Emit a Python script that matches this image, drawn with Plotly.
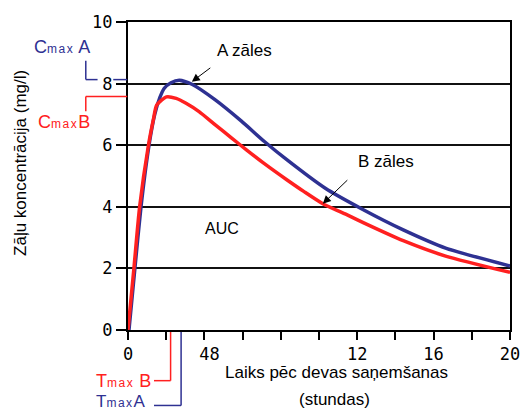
import plotly.graph_objects as go

# ---- data ----
time_a = [0.05, 0.36, 0.68, 1.1, 1.4, 1.67, 1.9, 2.25, 2.69, 3.37, 4.57, 5.94, 7.14, 8.33, 10.33, 12.27, 14.41, 16.63, 20]
conc_a = [0, 2.0, 4.0, 6.0, 7.0, 7.55, 7.85, 8.03, 8.11, 7.97, 7.47, 6.78, 6.12, 5.52, 4.6, 3.92, 3.25, 2.66, 2.08]

time_b = [0, 0.31, 0.61, 1.07, 1.33, 1.5, 2.01, 2.52, 3.04, 3.72, 4.57, 5.43, 6.2, 7.14, 8.33, 9.2, 10.2, 11.53, 12.37, 14.41, 16.63, 20]
conc_b = [0, 2.0, 4.0, 6.0, 6.84, 7.3, 7.57, 7.52, 7.36, 7.09, 6.66, 6.23, 5.85, 5.4, 4.87, 4.5, 4.1, 3.72, 3.47, 2.9, 2.4, 1.87]

x_tickvals = [0, 2, 4, 6, 8, 10, 12, 14, 16, 18, 20]
x_ticktext = ["0", "", "\u200748", "", "", "", "12", "", "16", "", "20"]
y_tickvals = [0, 2, 4, 6, 8, 10]
y_ticktext = ["0", "2", "4", "6", "8", "10"]

cmax_a, cmax_b = 8.13, 7.58
tmax_a, tmax_b = 2.78, 2.23

BLUE = "#2E3192"
RED = "#FF2020"
SANS = "Liberation Sans, Arial, sans-serif"
MONO = "DejaVu Sans Mono, monospace"
SUB = "<span style='font-size:12px;letter-spacing:1.5px'>max</span>"

fig = go.Figure()
fig.add_trace(go.Scatter(x=time_a, y=conc_a, mode="lines",
                         line=dict(color=BLUE, width=3.5, shape="spline", smoothing=0.6),
                         hoverinfo="skip"))
fig.add_trace(go.Scatter(x=time_b, y=conc_b, mode="lines",
                         line=dict(color=RED, width=3.5, shape="spline", smoothing=0.6),
                         hoverinfo="skip"))

shapes = []
# Cmax A bracket
shapes.append(dict(type="line", xref="paper", yref="y", x0=-0.1105, x1=-0.1105, y0=8.74, y1=cmax_a,
                   line=dict(color=BLUE, width=1.5)))
shapes.append(dict(type="line", xref="paper", yref="y", x0=-0.1105, x1=-0.0797, y0=cmax_a, y1=cmax_a,
                   line=dict(color=BLUE, width=1.5)))
shapes.append(dict(type="line", xref="paper", yref="y", x0=-0.0386, x1=-0.002, y0=cmax_a, y1=cmax_a,
                   line=dict(color=BLUE, width=1.5)))
# Cmax B bracket
shapes.append(dict(type="line", xref="paper", yref="y", x0=-0.1105, x1=-0.002, y0=cmax_b, y1=cmax_b,
                   line=dict(color=RED, width=1.5)))
shapes.append(dict(type="line", xref="paper", yref="y", x0=-0.1105, x1=-0.1105, y0=cmax_b, y1=7.1,
                   line=dict(color=RED, width=1.5)))
# Tmax B bracket
shapes.append(dict(type="line", xref="x", yref="paper", x0=tmax_b, x1=tmax_b, y0=-0.0065, y1=-0.1645,
                   line=dict(color=RED, width=1.5)))
shapes.append(dict(type="line", xref="x", yref="paper", x0=1.36, x1=tmax_b, y0=-0.1645, y1=-0.1645,
                   line=dict(color=RED, width=1.5)))
# Tmax A bracket
shapes.append(dict(type="line", xref="x", yref="paper", x0=tmax_a, x1=tmax_a, y0=-0.0065, y1=-0.245,
                   line=dict(color=BLUE, width=1.5)))
shapes.append(dict(type="line", xref="x", yref="paper", x0=1.36, x1=tmax_a, y0=-0.245, y1=-0.245,
                   line=dict(color=BLUE, width=1.5)))

annotations = [
    dict(text="A zāles", x=6.1, y=9.07, xref="x", yref="y", showarrow=False,
         xanchor="center", yanchor="middle",
         font=dict(family=SANS, size=17, color="black")),
    dict(text="", x=3.34, y=8.06, xref="x", yref="y", ax=20, ay=-15,
         showarrow=True, arrowhead=2, arrowsize=1.6, arrowwidth=1, arrowcolor="black"),
    dict(text="B zāles", x=13.5, y=5.48, xref="x", yref="y", showarrow=False,
         xanchor="center", yanchor="middle",
         font=dict(family=SANS, size=17, color="black")),
    dict(text="", x=10.2, y=4.1, xref="x", yref="y", ax=26, ay=-25,
         showarrow=True, arrowhead=2, arrowsize=1.6, arrowwidth=1, arrowcolor="black"),
    dict(text="AUC", x=4.9, y=3.29, xref="x", yref="y", showarrow=False,
         xanchor="center", yanchor="middle",
         font=dict(family=SANS, size=16, color="black")),
    dict(text="C" + SUB + " A", x=-0.252, y=9.19, xref="paper", yref="y",
         xanchor="left", yanchor="middle", showarrow=False, font=dict(family=SANS, size=18, color=BLUE)),
    dict(text="C" + SUB + "B", x=-0.24, y=6.74, xref="paper", yref="y",
         xanchor="left", yanchor="middle", showarrow=False, font=dict(family=SANS, size=18, color=RED)),
    dict(text="T" + SUB + " B", x=-0.09, y=-0.1645, xref="paper", yref="paper",
         xanchor="left", yanchor="middle", showarrow=False, font=dict(family=SANS, size=18, color=RED)),
    dict(text="T" + SUB + "A", x=-0.09, y=-0.232, xref="paper", yref="paper",
         xanchor="left", yanchor="middle", showarrow=False, font=dict(family=SANS, size=17, color=BLUE)),
    dict(text="Laiks pēc devas saņemšanas", x=0.545, y=-0.139, xref="paper", yref="paper",
         xanchor="center", yanchor="middle",
         showarrow=False, font=dict(family=SANS, size=17, color="black")),
    dict(text="(stundas)", x=0.54, y=-0.226, xref="paper", yref="paper",
         xanchor="center", yanchor="middle",
         showarrow=False, font=dict(family=SANS, size=17, color="black")),
    dict(text="Zāļu koncentrācija (mg/l)", x=-0.283, y=0.542, xref="paper", yref="paper",
         xanchor="center", yanchor="middle",
         textangle=-90, showarrow=False, font=dict(family=SANS, size=17, color="black")),
]

fig.update_layout(
    width=532, height=411,
    margin=dict(l=128, r=15, t=20, b=81),
    paper_bgcolor="white", plot_bgcolor="white",
    showlegend=False,
    shapes=shapes,
    annotations=annotations,
    xaxis=dict(range=[0, 20], tickvals=x_tickvals, ticktext=x_ticktext,
               ticks="outside", ticklen=8, tickwidth=1.5, tickcolor="black",
               showline=True, linecolor="black", linewidth=2, mirror=True,
               showgrid=False, zeroline=False,
               tickfont=dict(family=MONO, size=17, color="black")),
    yaxis=dict(range=[0, 10], tickvals=y_tickvals, ticktext=y_ticktext,
               ticks="outside", ticklen=10, tickwidth=1.5, tickcolor="black",
               showline=True, linecolor="black", linewidth=2, mirror=True,
               showgrid=True, gridcolor="#111111", gridwidth=1.5, zeroline=False,
               tickfont=dict(family=MONO, size=17, color="black")),
)

fig.write_html("out.html", config={"displayModeBar": False},
               post_script="document.body.style.margin='0';document.body.style.padding='0';")
